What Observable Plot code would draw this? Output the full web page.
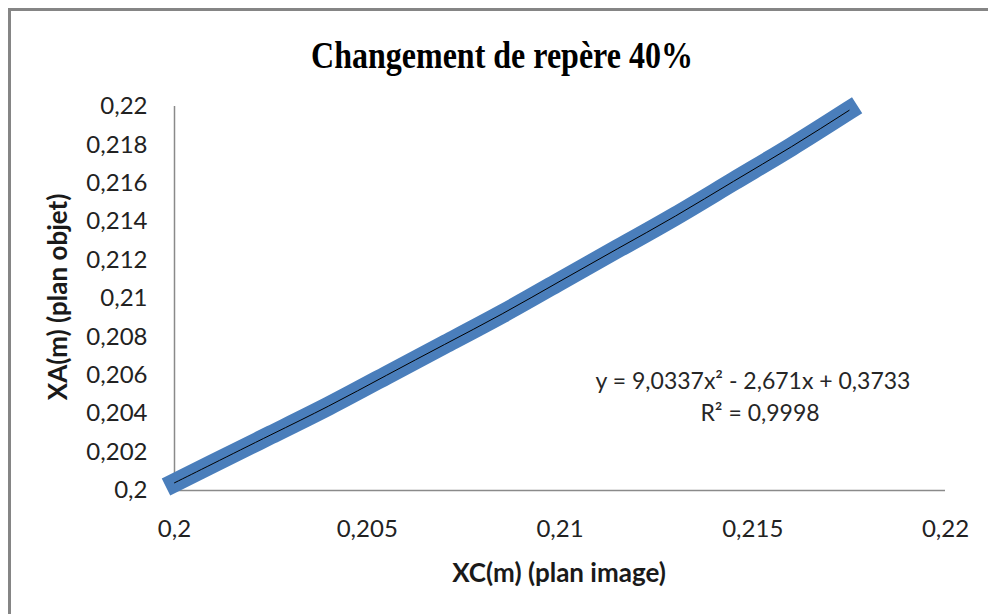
<!DOCTYPE html>
<html>
<head>
<meta charset="utf-8">
<script src="https://cdn.jsdelivr.net/npm/d3@7"></script>
<script src="https://cdn.jsdelivr.net/npm/@observablehq/plot@0.6"></script>
<style>
  html, body { margin: 0; padding: 0; background: #fff; }
  #wrap { position: relative; width: 988px; height: 614px; overflow: hidden; background: #fff; }
  #frame { position: absolute; left: 8px; top: 8px; width: 1000px; height: 620px;
           border-top: 3px solid #858585; border-left: 3px solid #858585; box-sizing: border-box; }
  #chart { position: absolute; left: 0; top: 0; }
  .t { position: absolute; white-space: nowrap; color: #000; }
  #title { font-family: "Liberation Serif", "Times New Roman", serif; font-weight: bold; font-size: 32px;
           left: 502px; top: 55px; transform: translate(-50%, -50%) scale(1, 1.2); }
  #xlabel { font-family: Lato, "Open Sans", sans-serif; font-weight: bold; font-size: 26px;
            left: 559px; top: 572px; transform: translate(-50%, -50%); color: #1a1a1a; }
  #ylabel { font-family: Lato, "Open Sans", sans-serif; font-weight: bold; font-size: 26px;
            left: 57px; top: 297px; transform: translate(-50%, -50%) rotate(-90deg); color: #1a1a1a; }
  .eq { font-family: Lato, "Open Sans", sans-serif; font-size: 23px; color: #262626;
        transform: translate(-50%, -50%); }
</style>
</head>
<body>
<div id="wrap">
  <div id="frame"></div>
  <div id="chart"></div>
  <div id="title" class="t"></div>
  <div id="xlabel" class="t"></div>
  <div id="ylabel" class="t"></div>
  <div id="eq1" class="t eq"></div>
  <div id="eq2" class="t eq"></div>
</div>
<script>
// Data
const xcValues = [0.2000, 0.2010, 0.2025, 0.2040, 0.2055, 0.2070, 0.2085, 0.2100, 0.2115, 0.2130, 0.2145, 0.2160, 0.2175];
const xaValues = [0.2004, 0.2014, 0.2029, 0.2044, 0.2060, 0.2076, 0.2092, 0.2109, 0.2126, 0.2143, 0.2161, 0.2179, 0.2198];
const xTickValues = [0.2, 0.205, 0.21, 0.215, 0.22];
const yTickValues = [0.2, 0.202, 0.204, 0.206, 0.208, 0.21, 0.212, 0.214, 0.216, 0.218, 0.22];
const titleText = "Changement de repère 40%";
const xLabelText = "XC(m) (plan image)";
const yLabelText = "XA(m) (plan objet)";
const equationText = "y = 9,0337x² - 2,671x + 0,3733";
const r2Text = "R² = 0,9998";

const data = xcValues.map((x, i) => ({xc: x, xa: xaValues[i]}));
const fmt = d => String(+d.toFixed(3)).replace(".", ",");

const chart = Plot.plot({
  width: 988,
  height: 614,
  marginLeft: 174,
  marginRight: 43,
  marginTop: 106,
  marginBottom: 124,
  style: {fontFamily: "Lato, 'Open Sans', sans-serif", fontSize: "24px", color: "#222", background: "transparent"},
  x: {domain: [0.2, 0.22], label: null},
  y: {domain: [0.2, 0.22], label: null},
  marks: [
    Plot.ruleY([0.2], {stroke: "#8a8a8a", strokeWidth: 1.5}),
    Plot.ruleX([0.2], {stroke: "#8a8a8a", strokeWidth: 1.5}),
    Plot.line(data, {x: "xc", y: "xa", stroke: "#4a7ebb", strokeWidth: 19, strokeLinecap: "square", strokeLinejoin: "round", curve: "natural"}),
    Plot.line(data, {x: "xc", y: "xa", stroke: "#000", strokeWidth: 1, curve: "natural"}),
    Plot.axisX(xTickValues, {tickSize: 0, tickPadding: 29, tickFormat: fmt, label: null}),
    Plot.axisY(yTickValues, {tickSize: 0, tickPadding: 27, tickFormat: fmt, label: null})
  ]
});
document.getElementById("chart").appendChild(chart);
document.getElementById("title").textContent = titleText;
document.getElementById("xlabel").textContent = xLabelText;
document.getElementById("ylabel").textContent = yLabelText;
const e1 = document.getElementById("eq1");
e1.textContent = equationText; e1.style.left = "753px"; e1.style.top = "380px";
const e2 = document.getElementById("eq2");
e2.textContent = r2Text; e2.style.left = "760px"; e2.style.top = "412px";
</script>
</body>
</html>
